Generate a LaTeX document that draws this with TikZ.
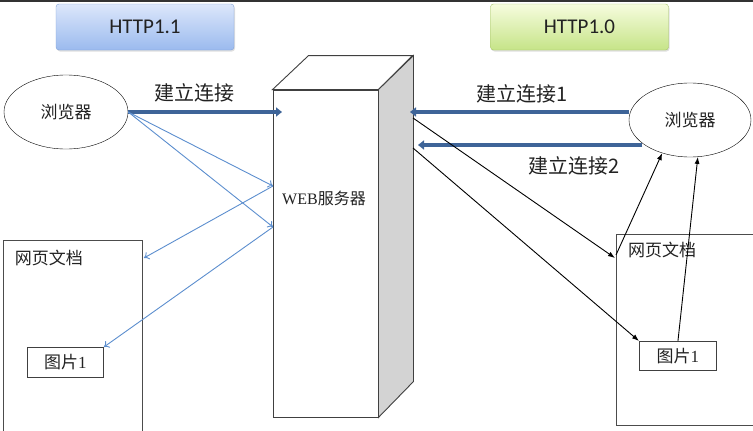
\documentclass[tikz,border=0pt]{standalone}
\usepackage{fontspec}
\setmainfont{Liberation Serif}
\newfontfamily\cjk{Noto Sans CJK SC}
\newfontfamily\hdfont{Carlito}
\usetikzlibrary{arrows.meta,positioning,shapes.geometric,calc,shadows}
\definecolor{linkblue}{RGB}{62,100,152}
\definecolor{thinblue}{RGB}{92,142,206}
\definecolor{srvgray}{RGB}{211,211,211}
\definecolor{txtgray}{RGB}{34,34,34}

\begin{document}
\begin{tikzpicture}[
  x=1pt,y=-1pt,
  every node/.style={text=txtgray},
  verbox/.style={draw,rounded corners=3pt,minimum width=178,minimum height=46,
                 font=\hdfont\fontsize{21}{24}\selectfont,
                 drop shadow={opacity=0.25,shadow xshift=1pt,shadow yshift=-1.5pt}},
  browser/.style={draw,ellipse,minimum width=124,minimum height=74,
                  font=\cjk\fontsize{17}{19}\selectfont},
  docbox/.style={draw=black!70,line width=0.9pt,anchor=north west},
  picbox/.style={draw=black!75,line width=0.9pt,anchor=north west,minimum width=76,
                 minimum height=30,font=\fontsize{17}{19}\selectfont},
  doctxt/.style={font=\cjk\fontsize{17}{19}\selectfont},
  lbl/.style={font=\cjk\fontsize{20}{22}\selectfont},
  link/.style={line width=4pt,linkblue,-{Triangle[length=6pt,width=9pt]}},
  fetch/.style={line width=0.9pt,thinblue,-{To[length=5pt,width=8pt]}},
  reply/.style={line width=0.9pt,black,-{Latex[length=7pt,width=5pt]}},
]
  \useasboundingbox (0,0) rectangle (753,431);
  \fill[black!80] (0,0) rectangle (753,2);

  % Version headers
  \node[verbox,top color={rgb,255:red,220;green,231;blue,251},
        bottom color={rgb,255:red,155;green,186;blue,238},
        draw={rgb,255:red,130;green,162;blue,215}] (v11) at (145,27) {HTTP1.1};
  \node[verbox,top color={rgb,255:red,246;green,252;blue,222},
        bottom color={rgb,255:red,198;green,228;blue,136},
        draw={rgb,255:red,165;green,195;blue,105}] (v10) at (579.5,27) {HTTP1.0};

  % Browsers
  \node[browser] (b1) at (66,112) {浏览器};
  \node[browser,minimum width=122] (b2) at (690,120) {浏览器};

  % Web server (front face, top and side)
  \node[draw=black!75,line width=0.9pt,fill=white,minimum width=105,minimum height=327]
    (srv) at (325.5,253.5) {};
  \draw[black!75,line width=0.9pt,fill=white]
    (srv.north west) -- ++(36,-34) -- ++(104,0) -- (srv.north east) -- cycle;
  \draw[black!75,line width=0.9pt,fill=srvgray]
    (srv.north east) -- ++(35,-34) -- ++(0,326) -- (srv.south east) -- cycle;
  \node[font=\fontsize{16}{18}\selectfont] (srvt) at (324,198) {WEB{\cjk 服务器}};

  % Web pages
  \node[docbox,minimum width=139,minimum height=200] (doc1) at (3,240) {};
  \node[doctxt] (doc1t) at (49,258) {网页文档};
  \node[picbox] (img1) at (27,347) {{\cjk 图片}1};
  \node[docbox,minimum width=150,minimum height=191] (doc2) at (616,234) {};
  \node[doctxt] (doc2t) at (662,250) {网页文档};
  \node[picbox,minimum width=77,minimum height=29] (img2) at (639,341) {{\cjk 图片}1};

  % Points on the server
  \coordinate (sa) at (273,186);
  \coordinate (sb) at (273,227);
  \coordinate (sc) at (282,112);
  \coordinate (sd) at (410,112);
  \coordinate (se) at (418,145);
  \coordinate (sf) at (413,118);
  \coordinate (sg) at (413,148);

  % HTTP1.1: one connection
  \draw[link] (b1.east) -- (sc);
  \node[lbl] (lk) at (194,93) {建立连接};
  \draw[fetch] (b1.east) -- (sa);
  \draw[fetch] (b1.east) -- (sb);
  \draw[fetch] (sa) -- ($(doc1.north east)+(1,18)$);
  \draw[fetch] (sb) -- (img1.north east);

  % HTTP1.0: one connection per resource
  \draw[link] (b2.west |- sd) -- (sd);
  \node[lbl] (lk1) at (522,94) {建立连接1};
  \draw[link] (b2.206 |- se) -- (se);
  \node[lbl] (lk2) at (574,166) {建立连接2};
  \draw[reply] (sf) -- ($(doc2.north west)+(-1,24)$);
  \draw[reply] (sg) -- (img2.north west);
  \draw[reply] ($(doc2.north west)+(0,21)$) -- (b2.230);
  \draw[reply] (img2.north) -- (b2.282);
\end{tikzpicture}
\end{document}
